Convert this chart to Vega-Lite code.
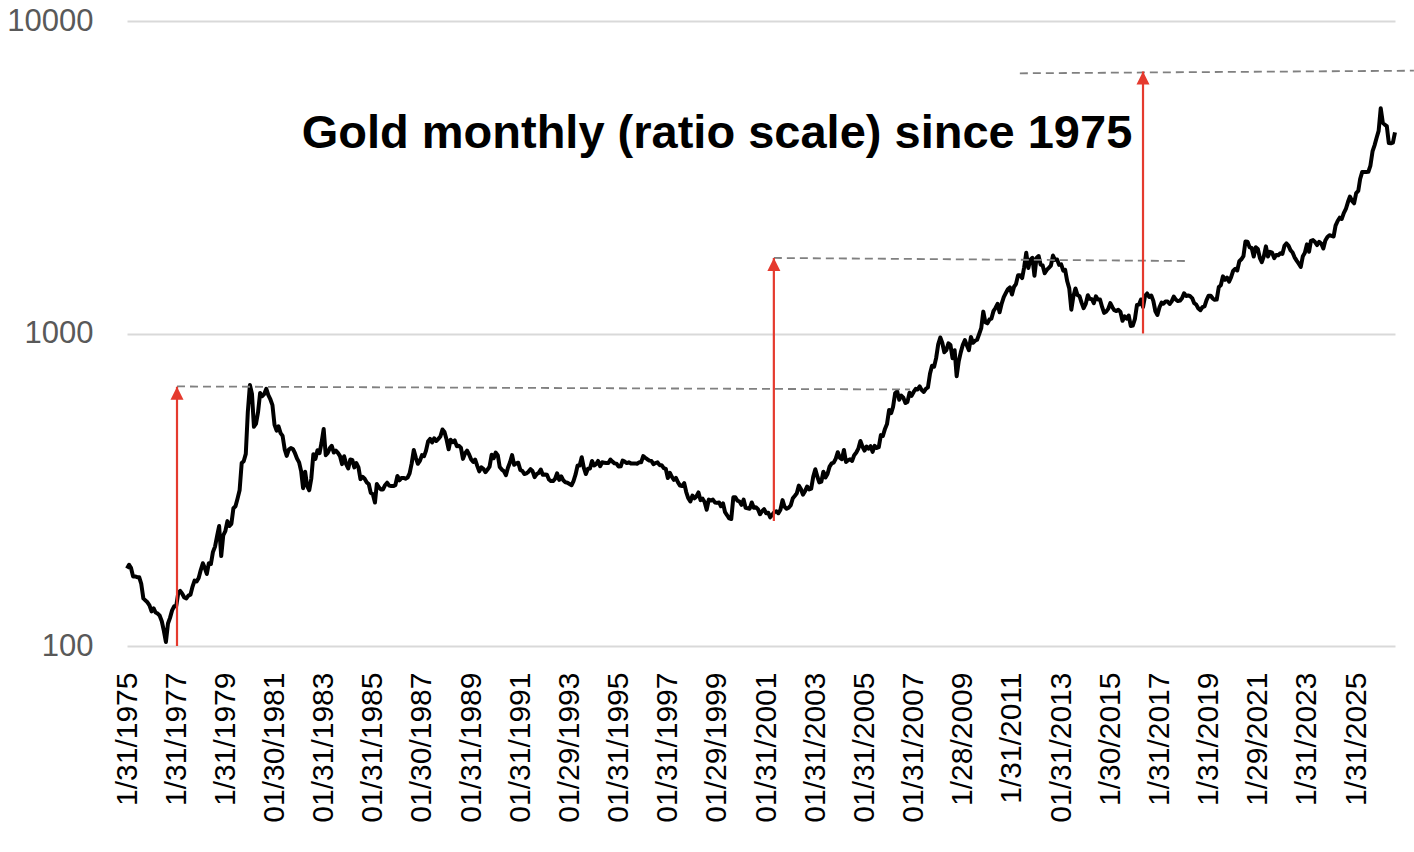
{
  "$schema": "https://vega.github.io/schema/vega-lite/v6.json",
  "width": 1268,
  "height": 625,
  "autosize": {"type": "none"},
  "padding": {"left": 127, "top": 21, "right": 19, "bottom": 206},
  "background": "white",
  "config": {"view": {"stroke": null}, "font": "Liberation Sans"},
  "datasets": {
    "gold": [
      {"d":"1975-01","p":177},{"d":"1975-02","p":182},{"d":"1975-03","p":178},{"d":"1975-04","p":167},{"d":"1975-05","p":167},{"d":"1975-06","p":166},{"d":"1975-07","p":166},{"d":"1975-08","p":158},{"d":"1975-09","p":142},{"d":"1975-10","p":140},{"d":"1975-11","p":138},{"d":"1975-12","p":135},
      {"d":"1976-01","p":129},{"d":"1976-02","p":132},{"d":"1976-03","p":128},{"d":"1976-04","p":127},{"d":"1976-05","p":125},{"d":"1976-06","p":120},{"d":"1976-07","p":112},{"d":"1976-08","p":103},{"d":"1976-09","p":118},{"d":"1976-10","p":123},{"d":"1976-11","p":130},{"d":"1976-12","p":134},
      {"d":"1977-01","p":134},{"d":"1977-02","p":148},{"d":"1977-03","p":150},{"d":"1977-04","p":147},{"d":"1977-05","p":143},{"d":"1977-06","p":142},{"d":"1977-07","p":145},{"d":"1977-08","p":146},{"d":"1977-09","p":155},{"d":"1977-10","p":162},{"d":"1977-11","p":161},{"d":"1977-12","p":165},
      {"d":"1978-01","p":175},{"d":"1978-02","p":184},{"d":"1978-03","p":178},{"d":"1978-04","p":170},{"d":"1978-05","p":184},{"d":"1978-06","p":183},{"d":"1978-07","p":200},{"d":"1978-08","p":208},{"d":"1978-09","p":225},{"d":"1978-10","p":242},{"d":"1978-11","p":194},{"d":"1978-12","p":226},
      {"d":"1979-01","p":233},{"d":"1979-02","p":251},{"d":"1979-03","p":242},{"d":"1979-04","p":246},{"d":"1979-05","p":276},{"d":"1979-06","p":280},{"d":"1979-07","p":296},{"d":"1979-08","p":315},{"d":"1979-09","p":385},{"d":"1979-10","p":390},{"d":"1979-11","p":412},{"d":"1979-12","p":560},
      {"d":"1980-01","p":684},{"d":"1980-02","p":640},{"d":"1980-03","p":503},{"d":"1980-04","p":515},{"d":"1980-05","p":560},{"d":"1980-06","p":645},{"d":"1980-07","p":630},{"d":"1980-08","p":640},{"d":"1980-09","p":665},{"d":"1980-10","p":635},{"d":"1980-11","p":615},{"d":"1980-12","p":590},
      {"d":"1981-01","p":510},{"d":"1981-02","p":489},{"d":"1981-03","p":505},{"d":"1981-04","p":480},{"d":"1981-05","p":470},{"d":"1981-06","p":426},{"d":"1981-07","p":406},{"d":"1981-08","p":425},{"d":"1981-09","p":430},{"d":"1981-10","p":427},{"d":"1981-11","p":414},{"d":"1981-12","p":398},
      {"d":"1982-01","p":387},{"d":"1982-02","p":362},{"d":"1982-03","p":320},{"d":"1982-04","p":361},{"d":"1982-05","p":325},{"d":"1982-06","p":315},{"d":"1982-07","p":343},{"d":"1982-08","p":411},{"d":"1982-09","p":397},{"d":"1982-10","p":423},{"d":"1982-11","p":414},{"d":"1982-12","p":448},
      {"d":"1983-01","p":495},{"d":"1983-02","p":408},{"d":"1983-03","p":414},{"d":"1983-04","p":429},{"d":"1983-05","p":437},{"d":"1983-06","p":416},{"d":"1983-07","p":422},{"d":"1983-08","p":415},{"d":"1983-09","p":405},{"d":"1983-10","p":382},{"d":"1983-11","p":405},{"d":"1983-12","p":382},
      {"d":"1984-01","p":370},{"d":"1984-02","p":395},{"d":"1984-03","p":394},{"d":"1984-04","p":373},{"d":"1984-05","p":385},{"d":"1984-06","p":373},{"d":"1984-07","p":342},{"d":"1984-08","p":348},{"d":"1984-09","p":343},{"d":"1984-10","p":334},{"d":"1984-11","p":330},{"d":"1984-12","p":309},
      {"d":"1985-01","p":306},{"d":"1985-02","p":288},{"d":"1985-03","p":330},{"d":"1985-04","p":322},{"d":"1985-05","p":317},{"d":"1985-06","p":317},{"d":"1985-07","p":327},{"d":"1985-08","p":333},{"d":"1985-09","p":326},{"d":"1985-10","p":325},{"d":"1985-11","p":325},{"d":"1985-12","p":327},
      {"d":"1986-01","p":350},{"d":"1986-02","p":339},{"d":"1986-03","p":345},{"d":"1986-04","p":345},{"d":"1986-05","p":343},{"d":"1986-06","p":346},{"d":"1986-07","p":357},{"d":"1986-08","p":384},{"d":"1986-09","p":424},{"d":"1986-10","p":401},{"d":"1986-11","p":383},{"d":"1986-12","p":391},
      {"d":"1987-01","p":408},{"d":"1987-02","p":405},{"d":"1987-03","p":421},{"d":"1987-04","p":451},{"d":"1987-05","p":460},{"d":"1987-06","p":448},{"d":"1987-07","p":462},{"d":"1987-08","p":453},{"d":"1987-09","p":460},{"d":"1987-10","p":468},{"d":"1987-11","p":493},{"d":"1987-12","p":484},
      {"d":"1988-01","p":458},{"d":"1988-02","p":426},{"d":"1988-03","p":457},{"d":"1988-04","p":449},{"d":"1988-05","p":455},{"d":"1988-06","p":436},{"d":"1988-07","p":437},{"d":"1988-08","p":431},{"d":"1988-09","p":397},{"d":"1988-10","p":413},{"d":"1988-11","p":422},{"d":"1988-12","p":410},
      {"d":"1989-01","p":395},{"d":"1989-02","p":388},{"d":"1989-03","p":395},{"d":"1989-04","p":377},{"d":"1989-05","p":362},{"d":"1989-06","p":373},{"d":"1989-07","p":369},{"d":"1989-08","p":360},{"d":"1989-09","p":367},{"d":"1989-10","p":375},{"d":"1989-11","p":409},{"d":"1989-12","p":399},
      {"d":"1990-01","p":416},{"d":"1990-02","p":407},{"d":"1990-03","p":374},{"d":"1990-04","p":367},{"d":"1990-05","p":363},{"d":"1990-06","p":352},{"d":"1990-07","p":372},{"d":"1990-08","p":387},{"d":"1990-09","p":408},{"d":"1990-10","p":380},{"d":"1990-11","p":384},{"d":"1990-12","p":386},
      {"d":"1991-01","p":366},{"d":"1991-02","p":363},{"d":"1991-03","p":355},{"d":"1991-04","p":357},{"d":"1991-05","p":361},{"d":"1991-06","p":368},{"d":"1991-07","p":363},{"d":"1991-08","p":347},{"d":"1991-09","p":355},{"d":"1991-10","p":358},{"d":"1991-11","p":367},{"d":"1991-12","p":353},
      {"d":"1992-01","p":354},{"d":"1992-02","p":353},{"d":"1992-03","p":341},{"d":"1992-04","p":337},{"d":"1992-05","p":337},{"d":"1992-06","p":343},{"d":"1992-07","p":357},{"d":"1992-08","p":340},{"d":"1992-09","p":349},{"d":"1992-10","p":339},{"d":"1992-11","p":334},{"d":"1992-12","p":333},
      {"d":"1993-01","p":330},{"d":"1993-02","p":327},{"d":"1993-03","p":337},{"d":"1993-04","p":354},{"d":"1993-05","p":378},{"d":"1993-06","p":378},{"d":"1993-07","p":402},{"d":"1993-08","p":372},{"d":"1993-09","p":355},{"d":"1993-10","p":369},{"d":"1993-11","p":370},{"d":"1993-12","p":391},
      {"d":"1994-01","p":378},{"d":"1994-02","p":382},{"d":"1994-03","p":391},{"d":"1994-04","p":376},{"d":"1994-05","p":387},{"d":"1994-06","p":386},{"d":"1994-07","p":385},{"d":"1994-08","p":385},{"d":"1994-09","p":395},{"d":"1994-10","p":389},{"d":"1994-11","p":384},{"d":"1994-12","p":383},
      {"d":"1995-01","p":375},{"d":"1995-02","p":376},{"d":"1995-03","p":392},{"d":"1995-04","p":389},{"d":"1995-05","p":385},{"d":"1995-06","p":387},{"d":"1995-07","p":384},{"d":"1995-08","p":384},{"d":"1995-09","p":384},{"d":"1995-10","p":383},{"d":"1995-11","p":387},{"d":"1995-12","p":387},
      {"d":"1996-01","p":405},{"d":"1996-02","p":400},{"d":"1996-03","p":396},{"d":"1996-04","p":392},{"d":"1996-05","p":391},{"d":"1996-06","p":382},{"d":"1996-07","p":385},{"d":"1996-08","p":387},{"d":"1996-09","p":379},{"d":"1996-10","p":379},{"d":"1996-11","p":371},{"d":"1996-12","p":369},
      {"d":"1997-01","p":345},{"d":"1997-02","p":358},{"d":"1997-03","p":348},{"d":"1997-04","p":340},{"d":"1997-05","p":345},{"d":"1997-06","p":334},{"d":"1997-07","p":326},{"d":"1997-08","p":325},{"d":"1997-09","p":332},{"d":"1997-10","p":311},{"d":"1997-11","p":297},{"d":"1997-12","p":290},
      {"d":"1998-01","p":303},{"d":"1998-02","p":297},{"d":"1998-03","p":301},{"d":"1998-04","p":310},{"d":"1998-05","p":293},{"d":"1998-06","p":296},{"d":"1998-07","p":289},{"d":"1998-08","p":273},{"d":"1998-09","p":294},{"d":"1998-10","p":292},{"d":"1998-11","p":294},{"d":"1998-12","p":288},
      {"d":"1999-01","p":287},{"d":"1999-02","p":288},{"d":"1999-03","p":280},{"d":"1999-04","p":286},{"d":"1999-05","p":268},{"d":"1999-06","p":262},{"d":"1999-07","p":256},{"d":"1999-08","p":255},{"d":"1999-09","p":299},{"d":"1999-10","p":299},{"d":"1999-11","p":292},{"d":"1999-12","p":290},
      {"d":"2000-01","p":283},{"d":"2000-02","p":294},{"d":"2000-03","p":277},{"d":"2000-04","p":276},{"d":"2000-05","p":275},{"d":"2000-06","p":288},{"d":"2000-07","p":277},{"d":"2000-08","p":278},{"d":"2000-09","p":274},{"d":"2000-10","p":264},{"d":"2000-11","p":270},{"d":"2000-12","p":274},
      {"d":"2001-01","p":266},{"d":"2001-02","p":267},{"d":"2001-03","p":258},{"d":"2001-04","p":263},{"d":"2001-05","p":268},{"d":"2001-06","p":270},{"d":"2001-07","p":266},{"d":"2001-08","p":273},{"d":"2001-09","p":293},{"d":"2001-10","p":279},{"d":"2001-11","p":275},{"d":"2001-12","p":277},
      {"d":"2002-01","p":282},{"d":"2002-02","p":297},{"d":"2002-03","p":302},{"d":"2002-04","p":308},{"d":"2002-05","p":326},{"d":"2002-06","p":318},{"d":"2002-07","p":305},{"d":"2002-08","p":313},{"d":"2002-09","p":324},{"d":"2002-10","p":317},{"d":"2002-11","p":319},{"d":"2002-12","p":348},
      {"d":"2003-01","p":368},{"d":"2003-02","p":348},{"d":"2003-03","p":334},{"d":"2003-04","p":336},{"d":"2003-05","p":361},{"d":"2003-06","p":346},{"d":"2003-07","p":355},{"d":"2003-08","p":375},{"d":"2003-09","p":384},{"d":"2003-10","p":386},{"d":"2003-11","p":398},{"d":"2003-12","p":417},
      {"d":"2004-01","p":400},{"d":"2004-02","p":396},{"d":"2004-03","p":424},{"d":"2004-04","p":388},{"d":"2004-05","p":393},{"d":"2004-06","p":396},{"d":"2004-07","p":391},{"d":"2004-08","p":408},{"d":"2004-09","p":416},{"d":"2004-10","p":428},{"d":"2004-11","p":453},{"d":"2004-12","p":435},
      {"d":"2005-01","p":422},{"d":"2005-02","p":435},{"d":"2005-03","p":428},{"d":"2005-04","p":436},{"d":"2005-05","p":418},{"d":"2005-06","p":437},{"d":"2005-07","p":430},{"d":"2005-08","p":433},{"d":"2005-09","p":473},{"d":"2005-10","p":470},{"d":"2005-11","p":495},{"d":"2005-12","p":513},
      {"d":"2006-01","p":569},{"d":"2006-02","p":556},{"d":"2006-03","p":582},{"d":"2006-04","p":644},{"d":"2006-05","p":653},{"d":"2006-06","p":614},{"d":"2006-07","p":633},{"d":"2006-08","p":623},{"d":"2006-09","p":599},{"d":"2006-10","p":604},{"d":"2006-11","p":646},{"d":"2006-12","p":632},
      {"d":"2007-01","p":650},{"d":"2007-02","p":665},{"d":"2007-03","p":662},{"d":"2007-04","p":677},{"d":"2007-05","p":659},{"d":"2007-06","p":650},{"d":"2007-07","p":665},{"d":"2007-08","p":672},{"d":"2007-09","p":743},{"d":"2007-10","p":789},{"d":"2007-11","p":783},{"d":"2007-12","p":834},
      {"d":"2008-01","p":923},{"d":"2008-02","p":971},{"d":"2008-03","p":934},{"d":"2008-04","p":871},{"d":"2008-05","p":885},{"d":"2008-06","p":930},{"d":"2008-07","p":918},{"d":"2008-08","p":833},{"d":"2008-09","p":884},{"d":"2008-10","p":730},{"d":"2008-11","p":815},{"d":"2008-12","p":870},
      {"d":"2009-01","p":920},{"d":"2009-02","p":952},{"d":"2009-03","p":917},{"d":"2009-04","p":884},{"d":"2009-05","p":975},{"d":"2009-06","p":934},{"d":"2009-07","p":948},{"d":"2009-08","p":955},{"d":"2009-09","p":996},{"d":"2009-10","p":1040},{"d":"2009-11","p":1175},{"d":"2009-12","p":1087},
      {"d":"2010-01","p":1078},{"d":"2010-02","p":1109},{"d":"2010-03","p":1115},{"d":"2010-04","p":1179},{"d":"2010-05","p":1207},{"d":"2010-06","p":1244},{"d":"2010-07","p":1169},{"d":"2010-08","p":1246},{"d":"2010-09","p":1307},{"d":"2010-10","p":1346},{"d":"2010-11","p":1386},{"d":"2010-12","p":1405},
      {"d":"2011-01","p":1333},{"d":"2011-02","p":1411},{"d":"2011-03","p":1439},{"d":"2011-04","p":1535},{"d":"2011-05","p":1536},{"d":"2011-06","p":1505},{"d":"2011-07","p":1628},{"d":"2011-08","p":1813},{"d":"2011-09","p":1620},{"d":"2011-10","p":1722},{"d":"2011-11","p":1746},{"d":"2011-12","p":1531},
      {"d":"2012-01","p":1744},{"d":"2012-02","p":1770},{"d":"2012-03","p":1662},{"d":"2012-04","p":1651},{"d":"2012-05","p":1558},{"d":"2012-06","p":1598},{"d":"2012-07","p":1622},{"d":"2012-08","p":1649},{"d":"2012-09","p":1776},{"d":"2012-10","p":1720},{"d":"2012-11","p":1726},{"d":"2012-12","p":1658},
      {"d":"2013-01","p":1664},{"d":"2013-02","p":1588},{"d":"2013-03","p":1598},{"d":"2013-04","p":1469},{"d":"2013-05","p":1394},{"d":"2013-06","p":1192},{"d":"2013-07","p":1314},{"d":"2013-08","p":1394},{"d":"2013-09","p":1327},{"d":"2013-10","p":1316},{"d":"2013-11","p":1253},{"d":"2013-12","p":1205},
      {"d":"2014-01","p":1244},{"d":"2014-02","p":1326},{"d":"2014-03","p":1291},{"d":"2014-04","p":1288},{"d":"2014-05","p":1250},{"d":"2014-06","p":1315},{"d":"2014-07","p":1285},{"d":"2014-08","p":1285},{"d":"2014-09","p":1216},{"d":"2014-10","p":1164},{"d":"2014-11","p":1176},{"d":"2014-12","p":1199},
      {"d":"2015-01","p":1251},{"d":"2015-02","p":1214},{"d":"2015-03","p":1187},{"d":"2015-04","p":1180},{"d":"2015-05","p":1191},{"d":"2015-06","p":1172},{"d":"2015-07","p":1098},{"d":"2015-08","p":1135},{"d":"2015-09","p":1115},{"d":"2015-10","p":1142},{"d":"2015-11","p":1057},{"d":"2015-12","p":1060},
      {"d":"2016-01","p":1111},{"d":"2016-02","p":1234},{"d":"2016-03","p":1237},{"d":"2016-04","p":1285},{"d":"2016-05","p":1215},{"d":"2016-06","p":1321},{"d":"2016-07","p":1343},{"d":"2016-08","p":1309},{"d":"2016-09","p":1323},{"d":"2016-10","p":1272},{"d":"2016-11","p":1178},{"d":"2016-12","p":1146},
      {"d":"2017-01","p":1213},{"d":"2017-02","p":1255},{"d":"2017-03","p":1245},{"d":"2017-04","p":1267},{"d":"2017-05","p":1266},{"d":"2017-06","p":1243},{"d":"2017-07","p":1267},{"d":"2017-08","p":1312},{"d":"2017-09","p":1283},{"d":"2017-10","p":1270},{"d":"2017-11","p":1274},{"d":"2017-12","p":1297},
      {"d":"2018-01","p":1345},{"d":"2018-02","p":1318},{"d":"2018-03","p":1324},{"d":"2018-04","p":1316},{"d":"2018-05","p":1298},{"d":"2018-06","p":1250},{"d":"2018-07","p":1237},{"d":"2018-08","p":1202},{"d":"2018-09","p":1187},{"d":"2018-10","p":1215},{"d":"2018-11","p":1221},{"d":"2018-12","p":1279},
      {"d":"2019-01","p":1321},{"d":"2019-02","p":1320},{"d":"2019-03","p":1296},{"d":"2019-04","p":1282},{"d":"2019-05","p":1284},{"d":"2019-06","p":1409},{"d":"2019-07","p":1427},{"d":"2019-08","p":1523},{"d":"2019-09","p":1485},{"d":"2019-10","p":1510},{"d":"2019-11","p":1465},{"d":"2019-12","p":1515},
      {"d":"2020-01","p":1589},{"d":"2020-02","p":1610},{"d":"2020-03","p":1591},{"d":"2020-04","p":1703},{"d":"2020-05","p":1728},{"d":"2020-06","p":1768},{"d":"2020-07","p":1971},{"d":"2020-08","p":1968},{"d":"2020-09","p":1887},{"d":"2020-10","p":1879},{"d":"2020-11","p":1763},{"d":"2020-12","p":1888},
      {"d":"2021-01","p":1863},{"d":"2021-02","p":1743},{"d":"2021-03","p":1691},{"d":"2021-04","p":1768},{"d":"2021-05","p":1900},{"d":"2021-06","p":1763},{"d":"2021-07","p":1825},{"d":"2021-08","p":1814},{"d":"2021-09","p":1743},{"d":"2021-10","p":1784},{"d":"2021-11","p":1781},{"d":"2021-12","p":1806},
      {"d":"2022-01","p":1797},{"d":"2022-02","p":1909},{"d":"2022-03","p":1942},{"d":"2022-04","p":1911},{"d":"2022-05","p":1849},{"d":"2022-06","p":1817},{"d":"2022-07","p":1753},{"d":"2022-08","p":1711},{"d":"2022-09","p":1672},{"d":"2022-10","p":1633},{"d":"2022-11","p":1768},{"d":"2022-12","p":1813},
      {"d":"2023-01","p":1929},{"d":"2023-02","p":1826},{"d":"2023-03","p":1979},{"d":"2023-04","p":1990},{"d":"2023-05","p":1962},{"d":"2023-06","p":1919},{"d":"2023-07","p":1965},{"d":"2023-08","p":1940},{"d":"2023-09","p":1870},{"d":"2023-10","p":1983},{"d":"2023-11","p":2037},{"d":"2023-12","p":2063},
      {"d":"2024-01","p":2053},{"d":"2024-02","p":2044},{"d":"2024-03","p":2214},{"d":"2024-04","p":2291},{"d":"2024-05","p":2347},{"d":"2024-06","p":2326},{"d":"2024-07","p":2427},{"d":"2024-08","p":2503},{"d":"2024-09","p":2634},{"d":"2024-10","p":2743},{"d":"2024-11","p":2657},{"d":"2024-12","p":2610},
      {"d":"2025-01","p":2812},{"d":"2025-02","p":2858},{"d":"2025-03","p":3122},{"d":"2025-04","p":3289},{"d":"2025-05","p":3289},{"d":"2025-06","p":3287},{"d":"2025-07","p":3290},{"d":"2025-08","p":3448},{"d":"2025-09","p":3825},{"d":"2025-10","p":4000},{"d":"2025-11","p":4230},{"d":"2025-12","p":4450},
      {"d":"2026-01","p":5260},{"d":"2026-02","p":4720},{"d":"2026-03","p":4660},{"d":"2026-04","p":4610},{"d":"2026-05","p":4070},{"d":"2026-06","p":4060},{"d":"2026-07","p":4080},{"d":"2026-08","p":4400}
    ],
    "arrows": [
      {"x": "1977-01-13", "y1": 100, "y2": 676},
      {"x": "2001-04-25", "y1": 251, "y2": 1745},
      {"x": "2016-05-01", "y1": 1000, "y2": 6887}
    ],
    "dashes": [
      {"g": 1, "x": "1977-01-13", "y": 677},
      {"g": 1, "x": "2006-11-07", "y": 662},
      {"g": 2, "x": "2001-04-25", "y": 1745},
      {"g": 2, "x": "2018-02-15", "y": 1706},
      {"g": 3, "x": "2011-04-28", "y": 6802},
      {"g": 3, "x": "2027-05-09", "y": 6934}
    ],
    "label": [
      {"x": "1999-01-01", "y": 3923, "t": "Gold monthly (ratio scale) since 1975"}
    ]
  },
  "layer": [
    {
      "data": {"name": "gold"},
      "mark": {"type": "line", "color": "black", "strokeWidth": 4, "strokeJoin": "round"},
      "encoding": {
        "x": {
          "field": "d",
          "type": "temporal",
          "title": null,
          "scale": {
            "type": "utc",
            "domain": [
              {"year": 1975, "month": 1, "date": 1, "utc": true},
              {"year": 2026, "month": 8, "date": 1, "utc": true}
            ]
          },
          "axis": {
            "values": [
              {"year": 1975, "month": 1, "date": 1, "utc": true},
              {"year": 1977, "month": 1, "date": 1, "utc": true},
              {"year": 1979, "month": 1, "date": 1, "utc": true},
              {"year": 1981, "month": 1, "date": 1, "utc": true},
              {"year": 1983, "month": 1, "date": 1, "utc": true},
              {"year": 1985, "month": 1, "date": 1, "utc": true},
              {"year": 1987, "month": 1, "date": 1, "utc": true},
              {"year": 1989, "month": 1, "date": 1, "utc": true},
              {"year": 1991, "month": 1, "date": 1, "utc": true},
              {"year": 1993, "month": 1, "date": 1, "utc": true},
              {"year": 1995, "month": 1, "date": 1, "utc": true},
              {"year": 1997, "month": 1, "date": 1, "utc": true},
              {"year": 1999, "month": 1, "date": 1, "utc": true},
              {"year": 2001, "month": 1, "date": 1, "utc": true},
              {"year": 2003, "month": 1, "date": 1, "utc": true},
              {"year": 2005, "month": 1, "date": 1, "utc": true},
              {"year": 2007, "month": 1, "date": 1, "utc": true},
              {"year": 2009, "month": 1, "date": 1, "utc": true},
              {"year": 2011, "month": 1, "date": 1, "utc": true},
              {"year": 2013, "month": 1, "date": 1, "utc": true},
              {"year": 2015, "month": 1, "date": 1, "utc": true},
              {"year": 2017, "month": 1, "date": 1, "utc": true},
              {"year": 2019, "month": 1, "date": 1, "utc": true},
              {"year": 2021, "month": 1, "date": 1, "utc": true},
              {"year": 2023, "month": 1, "date": 1, "utc": true},
              {"year": 2025, "month": 1, "date": 1, "utc": true}
            ],
            "labelExpr": "['1/31/1975','1/31/1977','1/31/1979','01/30/1981','01/31/1983','01/31/1985','01/30/1987','01/31/1989','01/31/1991','01/29/1993','01/31/1995','01/31/1997','01/29/1999','01/31/2001','01/31/2003','01/31/2005','01/31/2007','1/28/2009','1/31/2011','01/31/2013','1/30/2015','1/31/2017','1/31/2019','1/29/2021','1/31/2023','1/31/2025'][(utcyear(datum.value) - 1975) / 2]",
            "labelAngle": -90,
            "labelAlign": "right",
            "labelBaseline": "middle",
            "labelFontSize": 30,
            "labelColor": "black",
            "labelPadding": 26,
            "labelOverlap": false,
            "labelFlush": false,
            "labelBound": false,
            "ticks": false,
            "domain": false,
            "grid": false
          }
        },
        "y": {
          "field": "p",
          "type": "quantitative",
          "title": null,
          "scale": {"type": "log", "domain": [100, 10000], "nice": false},
          "axis": {
            "values": [100, 1000, 10000],
            "format": "d",
            "labelFontSize": 31,
            "labelColor": "#595959",
            "labelPadding": 34,
            "ticks": false,
            "domain": false,
            "grid": true,
            "gridColor": "#d9d9d9",
            "gridWidth": 2
          }
        }
      }
    },
    {
      "data": {"name": "dashes"},
      "mark": {"type": "line", "color": "#808080", "strokeWidth": 1.8, "strokeDash": [8, 5]},
      "encoding": {
        "x": {"field": "x", "type": "temporal"},
        "y": {"field": "y", "type": "quantitative"},
        "detail": {"field": "g", "type": "nominal"}
      }
    },
    {
      "data": {"name": "arrows"},
      "mark": {"type": "rule", "color": "#e53a2e", "strokeWidth": 2.2},
      "encoding": {
        "x": {"field": "x", "type": "temporal"},
        "y": {"field": "y1", "type": "quantitative"},
        "y2": {"field": "y2"}
      }
    },
    {
      "data": {"name": "arrows"},
      "mark": {"type": "point", "shape": "M0,0L1,2L-1,2Z", "size": 169, "filled": true, "color": "#e53a2e", "opacity": 1, "strokeWidth": 0},
      "encoding": {
        "x": {"field": "x", "type": "temporal"},
        "y": {"field": "y2", "type": "quantitative"}
      }
    },
    {
      "data": {"name": "label"},
      "mark": {"type": "text", "fontSize": 47, "fontWeight": "bold", "align": "center", "baseline": "alphabetic", "color": "black"},
      "encoding": {
        "x": {"field": "x", "type": "temporal"},
        "y": {"field": "y", "type": "quantitative"},
        "text": {"field": "t"}
      }
    }
  ]
}
